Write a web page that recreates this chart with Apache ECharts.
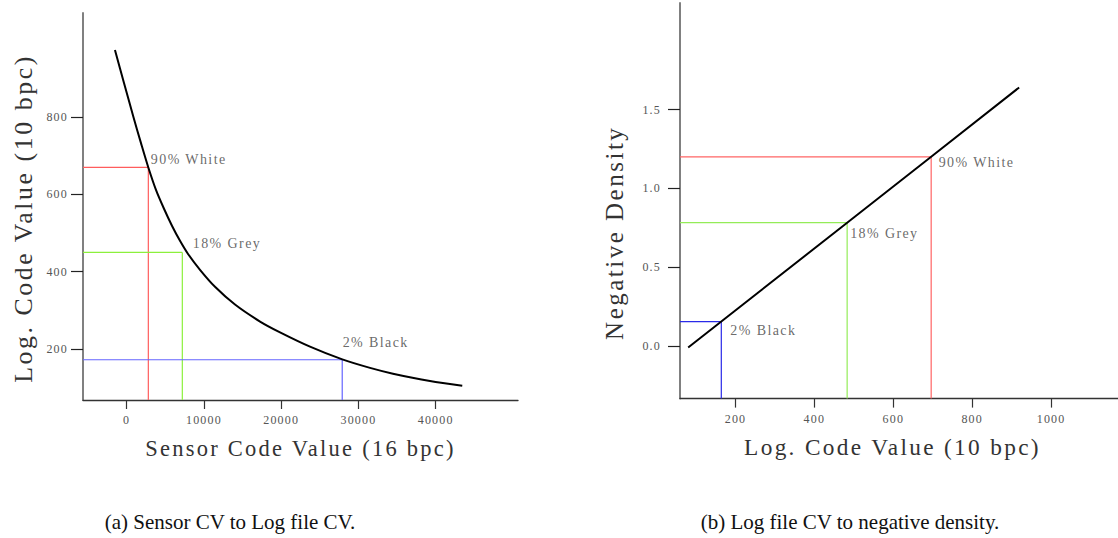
<!DOCTYPE html>
<html>
<head>
<meta charset="utf-8">
<script src="https://cdn.jsdelivr.net/npm/echarts@6/dist/echarts.min.js"></script>
<style>
  html, body { margin: 0; padding: 0; background: #fff; }
  #wrap { position: relative; width: 1118px; height: 538px; overflow: hidden; }
  #chart { position: absolute; left: 0; top: 0; width: 1118px; height: 538px; }
  /* typeset look: slightly tracked serif text inside the plots */
  #chart text { letter-spacing: 0.1em; }
  .cap {
    position: absolute; top: 509px; line-height: 26px;
    font-family: 'Liberation Serif', 'DejaVu Serif', serif; font-size: 21px;
    color: #111; white-space: nowrap; transform: translateX(-50%);
  }
</style>
</head>
<body>
<div id="wrap">
  <div id="chart"></div>
  <div class="cap" style="left:230px">(a) Sensor CV to Log file CV.</div>
  <div class="cap" style="left:850px">(b) Log file CV to negative density.</div>
</div>
<script>
// (a) sensor code value -> log code value transfer curve
const sensorCV = [-1520, -350, 880, 1850, 2800, 3790, 4830, 5860, 6900, 7940, 9490,
                  11430, 14020, 17260, 19850, 23730, 27910, 31500, 34470, 39260, 43440];
const logCV    = [974, 889, 800, 733, 670, 612, 563, 519, 480, 446, 405,
                  361, 315, 271, 243, 206, 173, 151, 136, 117, 105];

// (b) log code value -> negative density
const logCVb     = [80, 164, 483, 696, 919];
const negDensity = [-0.01, 0.155, 0.782, 1.2, 1.64];

// reference patches
const patchNames    = ['90% White', '18% Grey', '2% Black'];
const patchSensorCV = [2800, 7200, 27900];
const patchLogCV    = [670, 450, 172];
const patchLogCVb   = [696, 483, 164];
const patchDensity  = [1.2, 0.782, 0.155];

// ticks
const xTicksA = [0, 10000, 20000, 30000, 40000];
const yTicksA = [200, 400, 600, 800];
const xTicksB = [200, 400, 600, 800, 1000];
const yTicksB = [0, 0.5, 1.0, 1.5];

// axis extents
const xRangeA = [-5657, 50655];
const yRangeA = [67.8, 1070];
const xRangeB = [59.3, 1169.6];
const yRangeB = [-0.334, 2.176];

// styling
const FONT = "'Liberation Serif', 'DejaVu Serif', serif";
const patchColorsA = ['#ff5c5c', '#8cf03c', '#6464ff'];
const patchColorsB = ['#ff6464', '#94ec58', '#2a2ae8'];
const labelOffsetA = [[3, -7], [11, -8.5], [1, -16.5]];
const labelOffsetB = [[8, 6.6], [3.5, 11.4], [9.5, 9.2]];

function xAxisCfg(grid, range, ticks, name, size, pad, fmt) {
  return {
    type: 'value', gridIndex: grid, min: range[0], max: range[1],
    name: name, nameLocation: 'middle', nameGap: 37,
    nameTextStyle: { fontFamily: FONT, fontSize: size, color: '#333', padding: pad },
    axisLine: { onZero: false, lineStyle: { color: '#333', width: 1.3 } },
    axisTick: { customValues: ticks, length: 9, lineStyle: { color: '#333', width: 1.2 } },
    axisLabel: { customValues: ticks, fontFamily: FONT, fontSize: 12, color: '#555', margin: 14,
                 formatter: fmt || (v => String(v)) },
    splitLine: { show: false }
  };
}
function yAxisCfg(grid, range, ticks, name, gap, size, pad, labelMargin, fmt) {
  return {
    type: 'value', gridIndex: grid, min: range[0], max: range[1],
    name: name, nameLocation: 'middle', nameGap: gap,
    nameTextStyle: { fontFamily: FONT, fontSize: size, color: '#333', padding: pad },
    axisLine: { onZero: false, lineStyle: { color: '#808080', width: 2 } },
    axisTick: { customValues: ticks, length: 12, lineStyle: { color: '#222', width: 1.2 } },
    axisLabel: { customValues: ticks, fontFamily: FONT, fontSize: 12, color: '#555', margin: labelMargin,
                 formatter: fmt || (v => String(v)) },
    splitLine: { show: false }
  };
}

// guide lines from the axes to a patch point
function guides(axisIdx, xs, ys, xMin, yMin, colors) {
  const out = [];
  xs.forEach((x, i) => {
    const y = ys[i];
    const base = {
      type: 'line', xAxisIndex: axisIdx, yAxisIndex: axisIdx, symbol: 'none', z: 1,
      silent: true, lineStyle: { color: colors[i], width: 1.2 }
    };
    out.push(Object.assign({}, base, { data: [[xMin, y], [x, y]] }));
    out.push(Object.assign({}, base, { data: [[x, yMin], [x, y]] }));
  });
  return out;
}
function patchLabels(axisIdx, xs, ys, offsets) {
  return {
    type: 'scatter', xAxisIndex: axisIdx, yAxisIndex: axisIdx, symbolSize: 1, z: 5, silent: true,
    itemStyle: { color: 'transparent' },
    data: xs.map((x, i) => ({
      value: [x, ys[i]],
      label: {
        show: true, formatter: patchNames[i], position: offsets[i],
        align: 'left', verticalAlign: 'middle',
        fontFamily: FONT, fontSize: 14, color: '#444'
      }
    }))
  };
}

const chart = echarts.init(document.getElementById('chart'), null, { renderer: 'svg' });
chart.setOption({
  animation: false,
  backgroundColor: '#fff',
  grid: [
    { left: 83, top: 13, width: 435, height: 387 },
    { left: 680, top: 3, width: 438, height: 395.6 }
  ],
  xAxis: [
    xAxisCfg(0, xRangeA, xTicksA, 'Sensor Code Value (16 bpc)', 22.5, 0),
    xAxisCfg(1, xRangeB, xTicksB, 'Log. Code Value (10 bpc)', 23.3, [0, 13, 0, 0])
  ],
  yAxis: [
    yAxisCfg(0, yRangeA, yTicksA, 'Log. Code Value (10 bpc)', 47, 25.8, [0, 24, 0, 0], 15),
    yAxisCfg(1, yRangeB, yTicksB, 'Negative Density', 53, 25, [0, 64, 0, 0], 19, v => v.toFixed(1))
  ],
  series: [
    ...guides(0, patchSensorCV, patchLogCV, xRangeA[0], yRangeA[0], patchColorsA),
    ...guides(1, patchLogCVb, patchDensity, xRangeB[0], yRangeB[0], patchColorsB),
    {
      type: 'line', xAxisIndex: 0, yAxisIndex: 0, symbol: 'none', smooth: 0.3, z: 3,
      lineStyle: { color: '#000', width: 2 },
      data: sensorCV.map((x, i) => [x, logCV[i]])
    },
    {
      type: 'line', xAxisIndex: 1, yAxisIndex: 1, symbol: 'none', z: 3,
      lineStyle: { color: '#000', width: 2 },
      data: logCVb.map((x, i) => [x, negDensity[i]])
    },
    patchLabels(0, patchSensorCV, patchLogCV, labelOffsetA),
    patchLabels(1, patchLogCVb, patchDensity, labelOffsetB)
  ]
});
</script>
</body>
</html>
